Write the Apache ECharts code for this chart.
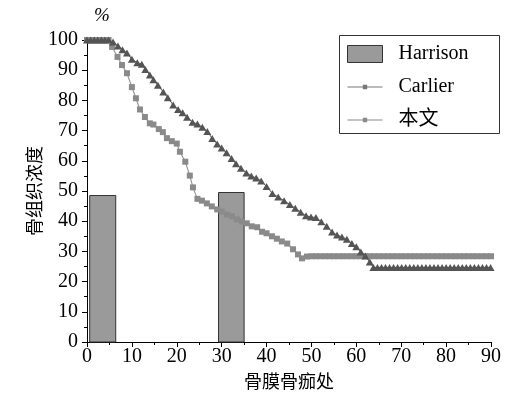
<!DOCTYPE html>
<html>
<head>
<meta charset="utf-8">
<script src="https://cdn.jsdelivr.net/npm/echarts@6/dist/echarts.min.js"></script>
<style>
  html, body { margin: 0; padding: 0; background: #fff; }
  #chart { width: 508px; height: 397px; }
</style>
</head>
<body>
<div id="chart"></div>
<script>
// Harrison: measured bands [x start, x end, concentration %]
const harrisonBars = [
  [0.6, 6.4, 48.5],
  [29.3, 35.0, 49.5]
];

// Carlier curve (x, %)
const carlierX = [0, 0.8, 1.6, 2.4, 3.2, 4.0, 4.8, 5.8, 6.9, 7.9, 8.9, 10, 11.2, 12.2, 13, 14, 14.8, 15.8, 17, 18,
  19.2, 20.3, 21.3, 22.3, 23.5, 24.6, 25.7, 26.8, 27.9, 29, 30, 31.1, 32.2, 33.2, 34.3, 35.5, 36.6, 37.7,
  38.8, 40, 41.3, 42.6, 43.9, 45.2, 46.4, 47.6, 48.8, 49.9, 51, 52.2, 53.4, 54.6, 55.7, 56.8, 57.9, 59,
  60, 61, 62, 63, 63.8, 64.7, 65.6, 66.5, 67.4, 68.3, 69.2, 70.1, 71, 71.9, 72.8, 73.7, 74.6, 75.5,
  76.4, 77.3, 78.2, 79.1, 80, 80.9, 81.8, 82.7, 83.6, 84.5, 85.4, 86.3, 87.2, 88.1, 89, 89.9];
const carlierY = [100, 100, 100, 100, 100, 100, 100, 99.3, 98, 96.8, 95.7, 93.6, 92.5, 92, 90.2, 88.4, 86.8, 85, 82.8, 80.9,
  78.5, 77, 75.9, 74.4, 72.8, 72.2, 71.1, 69.7, 67.4, 65.6, 64.2, 62.7, 60.8, 59, 57.5, 56, 55, 54.3,
  53.3, 51.5, 49.2, 48, 46.8, 45.5, 44.3, 43, 41.8, 41.4, 41.2, 39.8, 38.3, 36.4, 35.4, 34.8, 34, 32.6,
  31.5, 29.8, 28.5, 26.5, 24.7, 24.7, 24.7, 24.7, 24.7, 24.7, 24.7, 24.7, 24.7, 24.7, 24.7, 24.7, 24.7, 24.7,
  24.7, 24.7, 24.7, 24.7, 24.7, 24.7, 24.7, 24.7, 24.7, 24.7, 24.7, 24.7, 24.7, 24.7, 24.7, 24.7];

// 本文 curve (x, %)
const benwenX = [0, 0.8, 1.6, 2.4, 3.2, 4.0, 4.8, 5.6, 6.8, 7.8, 8.9, 10, 10.9, 11.8, 12.9, 14, 14.8, 16, 16.9, 17.8,
  18.9, 20, 20.7, 21.9, 22.9, 23.6, 24.6, 25.6, 26.7, 27.8, 29, 30, 31.2, 32.3, 33.4, 34.5, 35.6, 36.7,
  37.9, 39, 40, 41.2, 42.3, 43.4, 44.6, 45.9, 47, 47.9, 49, 50, 51, 52, 53, 54, 55, 56, 57, 58, 59, 60,
  61, 62, 63, 64, 65, 66, 67, 68, 69, 70, 71, 72, 73, 74, 75, 76, 77, 78, 79, 80, 81, 82, 83, 84, 85,
  86, 87, 88, 89, 90];
const benwenY = [100, 100, 100, 100, 100, 100, 100, 97.7, 94.4, 91.7, 89, 84.4, 80.7, 77, 74.5, 72.4, 72, 70.5, 69.5, 67.5,
  66.5, 65.7, 63, 59.7, 55.1, 51.2, 47.4, 46.8, 45.9, 44.9, 43.9, 43.2, 42.2, 41.6, 40.6, 39.9, 39.3, 38.3,
  38, 36.5, 36, 35, 34.2, 33.3, 32.6, 30.7, 29, 27.7, 28.3, 28.4, 28.4, 28.4, 28.4, 28.4, 28.4, 28.4, 28.4, 28.4, 28.4, 28.4,
  28.4, 28.4, 28.4, 28.4, 28.4, 28.4, 28.4, 28.4, 28.4, 28.4, 28.4, 28.4, 28.4, 28.4, 28.4, 28.4, 28.4, 28.4, 28.4, 28.4, 28.4, 28.4, 28.4, 28.4, 28.4,
  28.4, 28.4, 28.4, 28.4, 28.4];

const seriesNames = ['Harrison', 'Carlier', '本文'];
const xAxisTitle = '骨膜骨痂处';
const yAxisTitle = '骨组织浓度';
const unitLabel = '%';

const serif = "'Liberation Serif', 'Noto Sans CJK SC', serif";
const zip = (xs, ys) => xs.map((x, i) => [x, ys[i]]);

// legend icon: short line with a small square in the middle
const lineSquareIcon = 'path://M0,1.6H14V2.4H0Z M14,0H18V4H14Z M18,1.6H32V2.4H18Z';

const chart = echarts.init(document.getElementById('chart'), null, { renderer: 'canvas' });

const axisCommon = {
  axisLine: { show: true, lineStyle: { color: '#000', width: 1 } },
  axisTick: { show: true, inside: false, length: 5, lineStyle: { color: '#000' } },
  minorTick: { show: true, splitNumber: 2, length: 3, lineStyle: { color: '#000' } },
  splitLine: { show: false },
  minorSplitLine: { show: false },
  axisLabel: { color: '#000', fontFamily: serif, fontSize: 20 },
  nameTextStyle: { color: '#000', fontFamily: serif, fontSize: 18 },
  nameMoveOverlap: false
};

chart.setOption({
  animation: false,
  backgroundColor: '#fff',
  grid: { left: 87, right: 17, top: 40, bottom: 54, containLabel: false },
  xAxis: Object.assign({}, axisCommon, {
    type: 'value', min: 0, max: 90, interval: 10,
    name: xAxisTitle, nameLocation: 'middle', nameGap: 32,
    axisLabel: Object.assign({}, axisCommon.axisLabel, { margin: 5 })
  }),
  yAxis: Object.assign({}, axisCommon, {
    type: 'value', min: 0, max: 100, interval: 10,
    name: yAxisTitle, nameLocation: 'middle', nameGap: 42, nameRotate: 90,
    axisLabel: Object.assign({}, axisCommon.axisLabel, { margin: 9 })
  }),
  legend: {
    orient: 'vertical',
    left: 347, top: 44,
    itemWidth: 35, itemHeight: 17, itemGap: 13,
    padding: 0,
    symbolKeepAspect: true,
    textStyle: { color: '#000', fontFamily: serif, fontSize: 20, padding: [0, 0, 0, 11] },
    data: [
      { name: seriesNames[0], icon: 'rect', itemStyle: { color: '#9a9a9a', borderColor: '#333', borderWidth: 1 } },
      { name: seriesNames[1], icon: lineSquareIcon, itemStyle: { color: '#777' } },
      { name: seriesNames[2], icon: lineSquareIcon, itemStyle: { color: '#8a8a8a' } }
    ]
  },
  graphic: [
    { type: 'rect', left: 337, top: 33, shape: { width: 160, height: 98 },
      style: { fill: 'none', stroke: '#333', lineWidth: 1 }, z: 10 },
    { type: 'text', left: 94, top: 6,
      style: { text: unitLabel, fill: '#000', font: "italic 19px 'Liberation Serif', serif" } }
  ],
  series: [
    {
      name: seriesNames[0],
      type: 'custom',
      z: 1,
      data: harrisonBars,
      encode: { x: [0, 1], y: 2 },
      itemStyle: { color: '#9a9a9a' },
      renderItem: function (params, api) {
        const topLeft = api.coord([api.value(0), api.value(2)]);
        const bottomRight = api.coord([api.value(1), 0]);
        return {
          type: 'rect',
          shape: {
            x: topLeft[0], y: topLeft[1],
            width: bottomRight[0] - topLeft[0],
            height: bottomRight[1] - topLeft[1]
          },
          style: { fill: '#9a9a9a', stroke: '#333', lineWidth: 1 }
        };
      }
    },
    {
      name: seriesNames[1],
      type: 'line',
      z: 3,
      data: zip(carlierX, carlierY),
      symbol: 'triangle',
      symbolSize: [8, 7],
      showAllSymbol: true,
      color: '#555',
      lineStyle: { color: '#555', width: 1 },
      itemStyle: { color: '#555' }
    },
    {
      name: seriesNames[2],
      type: 'line',
      z: 2,
      data: zip(benwenX, benwenY),
      symbol: 'rect',
      symbolSize: 6,
      showAllSymbol: true,
      color: '#8a8a8a',
      lineStyle: { color: '#999', width: 1.2 },
      itemStyle: { color: '#8a8a8a' }
    }
  ]
});
</script>
</body>
</html>
